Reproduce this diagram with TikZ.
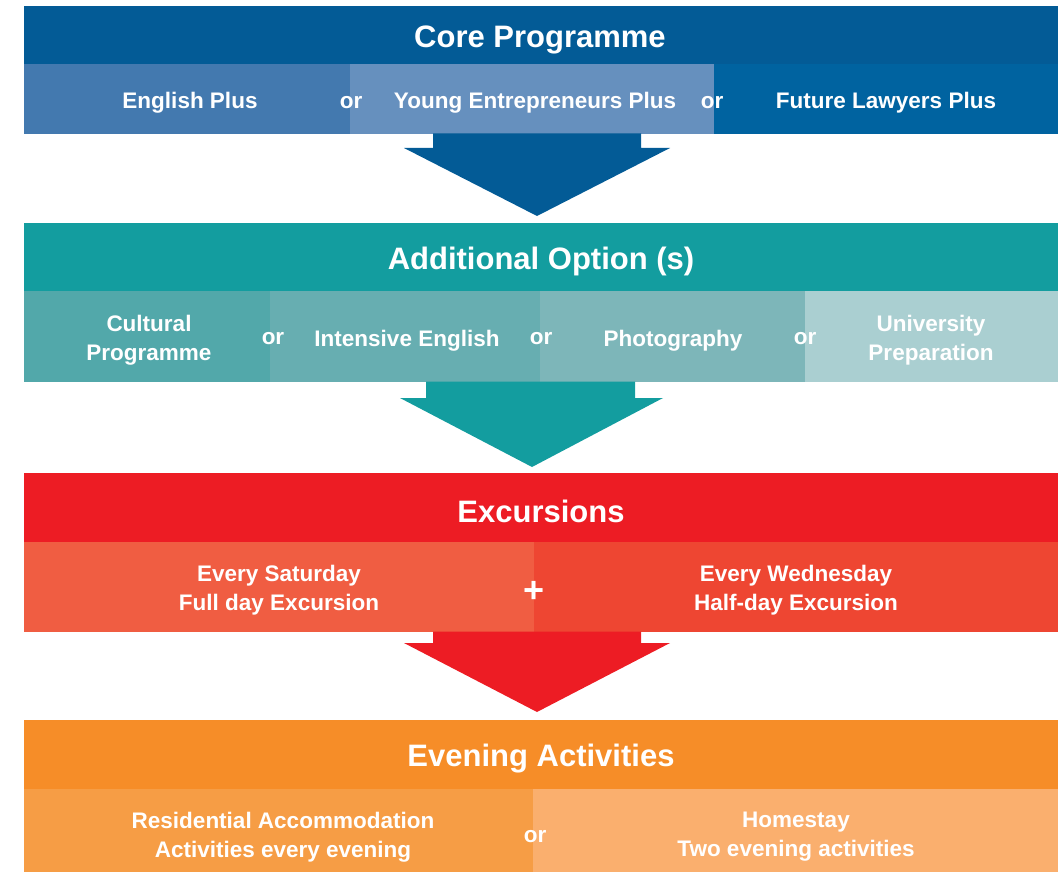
\documentclass[tikz,border=0pt]{standalone}
\usepackage{fontspec}
\setmainfont{Liberation Sans}
\definecolor{cHead}{HTML}{035B96}
\definecolor{cEng}{HTML}{4379AF}
\definecolor{cYoung}{HTML}{6690BE}
\definecolor{cLaw}{HTML}{0063A0}
\definecolor{tHead}{HTML}{139D9F}
\definecolor{tCult}{HTML}{52A8AA}
\definecolor{tInt}{HTML}{67AEB1}
\definecolor{tPhoto}{HTML}{7DB6B9}
\definecolor{tUni}{HTML}{AACFD1}
\definecolor{rHead}{HTML}{ED1C24}
\definecolor{rSat}{HTML}{F05D42}
\definecolor{rWed}{HTML}{EE4632}
\definecolor{oHead}{HTML}{F68D28}
\definecolor{oRes}{HTML}{F69D45}
\definecolor{oHome}{HTML}{FAAF6E}
\tikzset{
  headtxt/.style={text=white, font=\fontsize{31}{36}\selectfont\bfseries, inner sep=0pt, yshift=-3.5pt},
  subtxt/.style={text=white, font=\fontsize{22.5}{29}\selectfont\bfseries, inner sep=0pt, align=center, yshift=-2.5pt},
}
\begin{document}
\begin{tikzpicture}[x=1pt,y=-1pt]
\useasboundingbox (0,0) rectangle (1058,872);
% ---------- Core Programme ----------
\fill[cHead] (24,6) rectangle (1058,64.5);
\fill[cEng] (24,64) rectangle (350,134);
\fill[cYoung] (350,64) rectangle (714,134);
\fill[cLaw] (714,64) rectangle (1058,134);
\node[headtxt] (core) at (540,36) {Core Programme};
\node[subtxt] (eng) at (190,100) {English Plus};
\node[subtxt] (or1) at (351,100) {or};
\node[subtxt] (young) at (535,100) {Young Entrepreneurs Plus};
\node[subtxt] (or2) at (712,100) {or};
\node[subtxt] (law) at (886,100) {Future Lawyers Plus};
% arrow 1
\fill[cHead] (433,133.5) -- (641,133.5) -- (641,148) -- (670,148) -- (537,216) -- (404,148) -- (433,148) -- cycle;
% ---------- Additional Options ----------
\fill[tHead] (24,223) rectangle (1058,291.5);
\fill[tCult] (24,291) rectangle (270,382);
\fill[tInt] (270,291) rectangle (540,382);
\fill[tPhoto] (540,291) rectangle (805,382);
\fill[tUni] (805,291) rectangle (1058,382);
\node[headtxt] (add) at (541,258) {Additional Option (s)};
\node[subtxt] (cult) at (149,337.5) {Cultural\\Programme};
\node[subtxt] (or3) at (273,336) {or};
\node[subtxt] (int) at (407,338) {Intensive English};
\node[subtxt] (or4) at (541,336) {or};
\node[subtxt] (photo) at (673,338) {Photography};
\node[subtxt] (or5) at (805,336) {or};
\node[subtxt] (uni) at (931,337.5) {University\\Preparation};
% arrow 2
\fill[tHead] (426,381.5) -- (635,381.5) -- (635,398) -- (663,398) -- (532,467) -- (400,398) -- (426,398) -- cycle;
% ---------- Excursions ----------
\fill[rHead] (24,473) rectangle (1058,542.5);
\fill[rSat] (24,542) rectangle (534,632);
\fill[rWed] (534,542) rectangle (1058,632);
\node[headtxt] (exc) at (541,508) {Excursions};
\node[subtxt] (sat) at (279,587.5) {Every Saturday\\Full day Excursion};
\node[text=white, font=\fontsize{36}{40}\selectfont\bfseries, inner sep=0pt, yshift=-2pt] (plus) at (534,590) {+};
\node[subtxt] (wed) at (796,587.5) {Every Wednesday\\Half-day Excursion};
% arrow 3
\fill[rHead] (433,631.5) -- (641,631.5) -- (641,643) -- (670,643) -- (537,712) -- (404,643) -- (433,643) -- cycle;
% ---------- Evening Activities ----------
\fill[oHead] (24,720) rectangle (1058,789.5);
\fill[oRes] (24,789) rectangle (533,872);
\fill[oHome] (533,789) rectangle (1058,872);
\node[headtxt] (eve) at (541,755) {Evening Activities};
\node[subtxt] (res) at (283,834.5) {Residential Accommodation\\Activities every evening};
\node[subtxt] (or6) at (535,834) {or};
\node[subtxt] (home) at (796,834.5) {Homestay\\Two evening activities};
\end{tikzpicture}
\end{document}
